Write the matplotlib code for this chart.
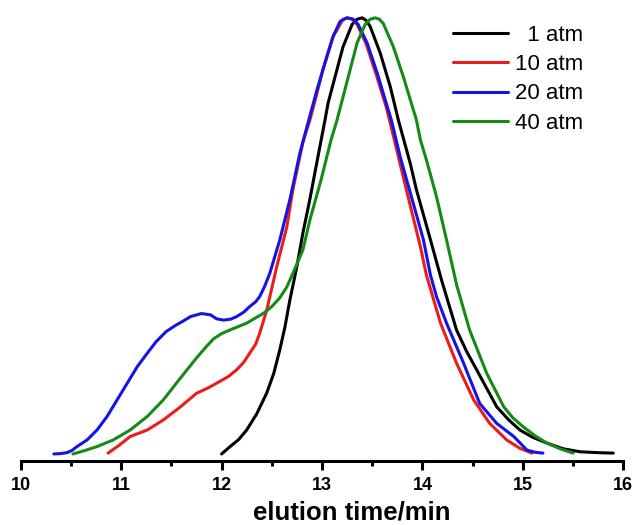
import matplotlib
matplotlib.use("Agg")
import matplotlib.pyplot as plt
from matplotlib.ticker import MultipleLocator

plt.rcParams['font.family'] = ['Liberation Sans', 'DejaVu Sans']

# ---- data (elution time / min, normalized signal) ----
t_1atm = [12.00, 12.08, 12.17, 12.25, 12.35, 12.45, 12.52, 12.58, 12.63, 12.68, 12.75, 12.81, 12.88,
          12.95, 13.03, 13.06, 13.13, 13.21, 13.30, 13.35, 13.40, 13.44, 13.48, 13.58, 13.68, 13.76,
          13.88, 13.94, 14.08, 14.19, 14.34, 14.44, 14.54, 14.74, 14.86, 14.97, 15.10, 15.24, 15.40,
          15.57, 15.75, 15.90]
s_1atm = [0.0, 0.016, 0.033, 0.055, 0.092, 0.140, 0.185, 0.239, 0.290, 0.353, 0.430, 0.507, 0.585,
          0.670, 0.766, 0.804, 0.865, 0.934, 0.985, 0.997, 1.0, 0.994, 0.980, 0.919, 0.842, 0.766,
          0.665, 0.606, 0.491, 0.399, 0.284, 0.235, 0.193, 0.108, 0.078, 0.055, 0.038, 0.025, 0.012,
          0.005, 0.003, 0.002]

t_10atm = [10.87, 10.98, 11.09, 11.26, 11.42, 11.59, 11.75, 11.87, 11.98, 12.07, 12.15, 12.22, 12.28,
           12.34, 12.38, 12.45, 12.50, 12.55, 12.65, 12.71, 12.81, 12.88, 12.95, 13.01, 13.11, 13.21,
           13.25, 13.30, 13.35, 13.44, 13.54, 13.64, 13.71, 13.84, 13.98, 14.04, 14.11, 14.18, 14.34,
           14.51, 14.67, 14.84, 14.97, 15.09]
s_10atm = [0.002, 0.020, 0.040, 0.055, 0.078, 0.108, 0.139, 0.152, 0.166, 0.178, 0.193, 0.210, 0.231,
           0.252, 0.277, 0.330, 0.380, 0.430, 0.521, 0.606, 0.715, 0.766, 0.827, 0.881, 0.957, 0.997,
           1.0, 0.997, 0.985, 0.940, 0.870, 0.795, 0.730, 0.606, 0.475, 0.410, 0.355, 0.300, 0.208,
           0.124, 0.070, 0.032, 0.013, 0.002]

t_20atm = [10.33, 10.40, 10.46, 10.51, 10.56, 10.66, 10.76, 10.86, 10.96, 11.06, 11.16, 11.26, 11.35,
           11.45, 11.55, 11.62, 11.69, 11.80, 11.89, 11.95, 12.02, 12.09, 12.15, 12.22, 12.28, 12.34,
           12.38, 12.43, 12.48, 12.58, 12.68, 12.78, 12.85, 12.95, 13.02, 13.11, 13.18, 13.25, 13.31,
           13.36, 13.45, 13.55, 13.64, 13.69, 13.78, 13.89, 14.01, 14.08, 14.14, 14.24, 14.41, 14.57,
           14.74, 14.91, 15.04, 15.12, 15.20]
s_20atm = [0.0, 0.001, 0.003, 0.008, 0.017, 0.032, 0.055, 0.086, 0.124, 0.162, 0.200, 0.231, 0.258,
           0.281, 0.296, 0.305, 0.315, 0.322, 0.319, 0.310, 0.307, 0.309, 0.315, 0.325, 0.338, 0.349,
           0.361, 0.385, 0.414, 0.491, 0.583, 0.690, 0.750, 0.835, 0.890, 0.957, 0.992, 1.0, 0.997,
           0.985, 0.942, 0.873, 0.804, 0.766, 0.680, 0.590, 0.491, 0.410, 0.361, 0.300, 0.208, 0.116,
           0.070, 0.040, 0.009, 0.004, 0.002]

t_40atm = [10.52, 10.64, 10.76, 10.92, 11.09, 11.26, 11.42, 11.59, 11.75, 11.84, 11.92, 12.00, 12.08,
           12.25, 12.42, 12.50, 12.58, 12.65, 12.71, 12.81, 12.88, 12.99, 13.09, 13.15, 13.22, 13.28,
           13.35, 13.43, 13.48, 13.53, 13.57, 13.61, 13.71, 13.81, 13.89, 13.94, 13.98, 14.04, 14.14,
           14.24, 14.34, 14.47, 14.64, 14.81, 14.90, 15.00, 15.12, 15.24, 15.37, 15.50]
s_40atm = [0.0, 0.008, 0.017, 0.032, 0.055, 0.086, 0.124, 0.174, 0.220, 0.244, 0.264, 0.276, 0.284,
           0.300, 0.323, 0.338, 0.358, 0.383, 0.414, 0.468, 0.537, 0.628, 0.720, 0.766, 0.828, 0.881,
           0.943, 0.985, 0.997, 1.0, 0.997, 0.987, 0.934, 0.865, 0.804, 0.766, 0.720, 0.674, 0.590,
           0.491, 0.388, 0.284, 0.185, 0.108, 0.083, 0.063, 0.042, 0.025, 0.012, 0.002]

labels = ['  1 atm', '10 atm', '20 atm', '40 atm']
colors = ['#000000', '#ec1c1c', '#1414e6', '#158a15']

xticks = [10, 11, 12, 13, 14, 15, 16]

fig = plt.figure(figsize=(6.35, 5.25), dpi=100)
ax = fig.add_axes([20.7 / 635, 1 - 460.7 / 525, 602.6 / 635, 450.7 / 525])

for t, s, lab, c in zip([t_1atm, t_10atm, t_20atm, t_40atm],
                        [s_1atm, s_10atm, s_20atm, s_40atm], labels, colors):
    ax.plot(t, s, color=c, lw=2.2, label=lab, solid_joinstyle='round', solid_capstyle='round')

ax.set_xlim(10, 16)
ax.set_ylim(-0.0154, 1.018)

for side in ['left', 'right', 'top']:
    ax.spines[side].set_visible(False)
ax.spines['bottom'].set_linewidth(2.2)
ax.set_yticks([])
ax.set_xticks(xticks)
ax.set_xticklabels([str(v) for v in xticks], fontweight='bold')
ax.xaxis.set_minor_locator(MultipleLocator(0.5))
ax.tick_params(axis='x', which='major', direction='out', length=6.7, width=2.2, pad=5,
               labelsize=13)
ax.tick_params(axis='x', which='minor', direction='out', length=3.8, width=2.2)

ax.set_xlabel('elution time/min', fontsize=18.5, fontweight='bold')
ax.xaxis.set_label_coords(0.549, -0.088)

leg = ax.legend(loc='upper left', bbox_to_anchor=(453 / 635, 1 - 25 / 525),
                bbox_transform=fig.transFigure, frameon=False, fontsize=16,
                handlelength=2.48, handletextpad=0.32, labelspacing=0.37,
                borderpad=0, borderaxespad=0)

fig.savefig('out.png', dpi=100)
